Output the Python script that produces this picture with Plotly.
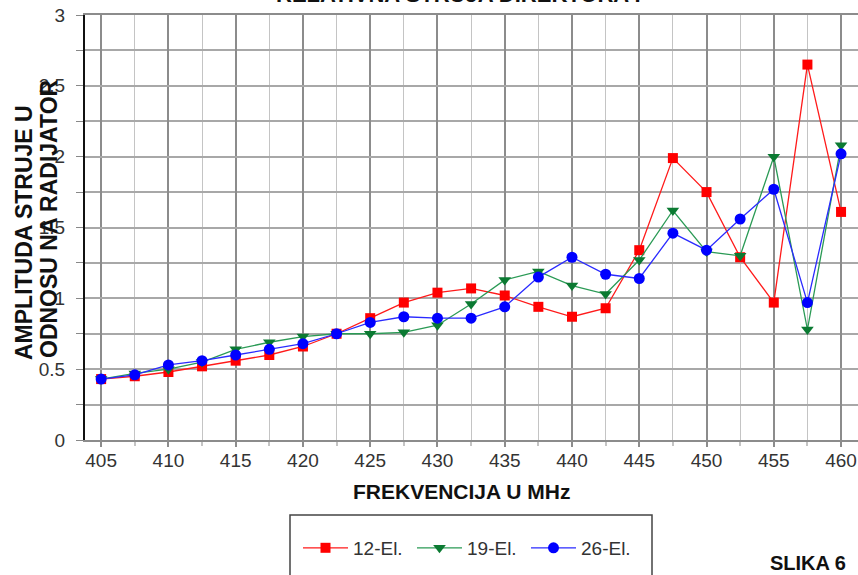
import plotly.graph_objects as go

freq = [405, 407.5, 410, 412.5, 415, 417.5, 420, 422.5, 425, 427.5, 430, 432.5,
        435, 437.5, 440, 442.5, 445, 447.5, 450, 452.5, 455, 457.5, 460]
el12 = [0.43, 0.45, 0.48, 0.52, 0.56, 0.60, 0.66, 0.75, 0.86, 0.97, 1.04, 1.07,
        1.02, 0.94, 0.87, 0.93, 1.34, 1.99, 1.75, 1.29, 0.97, 2.65, 1.61]
el19 = [0.43, 0.47, 0.50, 0.55, 0.64, 0.69, 0.73, 0.75, 0.75, 0.76, 0.81, 0.96,
        1.13, 1.19, 1.09, 1.03, 1.27, 1.62, 1.33, 1.30, 2.00, 0.78, 2.08]
el26 = [0.43, 0.46, 0.53, 0.56, 0.60, 0.64, 0.68, 0.75, 0.83, 0.87, 0.86, 0.86,
        0.94, 1.15, 1.29, 1.17, 1.14, 1.46, 1.34, 1.56, 1.77, 0.97, 2.02]
names = ["12-El.", "19-El.", "26-El."]
x_ticks = [405, 410, 415, 420, 425, 430, 435, 440, 445, 450, 455, 460]
y_ticks = [0, 0.5, 1, 1.5, 2, 2.5, 3]

FONT = "Liberation Sans, Arial, sans-serif"

fig = go.Figure()
fig.add_trace(go.Scatter(x=freq, y=el12, name=names[0], mode="lines+markers",
                         line=dict(color="#ff1a1a", width=1.3),
                         marker=dict(symbol="square", size=10, color="#ff0000")))
fig.add_trace(go.Scatter(x=freq, y=el19, name=names[1], mode="lines+markers",
                         line=dict(color="#2a9a55", width=1.3),
                         marker=dict(symbol="triangle-down", size=11, color="#0b7a32")))
fig.add_trace(go.Scatter(x=freq, y=el26, name=names[2], mode="lines+markers",
                         line=dict(color="#2a2aff", width=1.3),
                         marker=dict(symbol="circle", size=11, color="#0000ff")))

fig.update_layout(
    width=858, height=575,
    margin=dict(l=85, r=0, t=15, b=135),
    paper_bgcolor="white", plot_bgcolor="white",
    font=dict(family=FONT, color="#333333"),
    showlegend=True,
    legend=dict(orientation="h", x=(298 - 85) / 773, y=-0.254, xanchor="left", yanchor="middle",
                font=dict(size=19, color="#333333"), bgcolor="rgba(0,0,0,0)",
                itemwidth=45, entrywidth=54, tracegroupgap=0),
    xaxis=dict(range=[403.8, 461.26], tickvals=x_ticks, showgrid=True,
               gridcolor="#8c8c8c", gridwidth=1.5,
               showline=True, linecolor="#8c8c8c", linewidth=1.5, mirror=True,
               ticks="outside", ticklen=5, tickcolor="#8c8c8c", tickwidth=1.5,
               ticklabelstandoff=-3,
               tickfont=dict(size=19, color="#333333"), zeroline=False,
               minor=dict(dtick=2.5, tick0=405, showgrid=True, gridcolor="#c4c4c4",
                          gridwidth=1, ticks="outside", ticklen=4, tickcolor="#c4c4c4")),
    yaxis=dict(range=[0, 3], tickvals=y_ticks, ticktext=["0", "0.5", "1", "1.5", "2", "2.5", "3"],
               showgrid=True, gridcolor="#a8a8a8", gridwidth=1.5,
               showline=True, linecolor="#111111", linewidth=2,
               ticks="outside", ticklen=7, tickcolor="#888888",
               ticklabelstandoff=7,
               tickfont=dict(size=19, color="#333333"), zeroline=False,
               minor=dict(dtick=0.25, tick0=0, showgrid=True, gridcolor="#a8a8a8",
                          gridwidth=1.5, ticks="outside", ticklen=7, tickcolor="#888888")),
)

# legend box
fig.add_shape(type="rect", xref="paper", yref="paper",
              x0=(290 - 85) / 773, x1=(652 - 85) / 773,
              y0=(440 - 515) / 425, y1=(440 - 585) / 425,
              line=dict(color="#444444", width=1.5), fillcolor="rgba(0,0,0,0)", layer="above")

# axis titles and captions
fig.add_annotation(xref="paper", yref="paper", x=(461 - 85) / 773, y=(440 - 491) / 425,
                   text="<b>FREKVENCIJA U MHz</b>", showarrow=False,
                   font=dict(size=21, color="#111111", family=FONT),
                   xanchor="center", yanchor="middle")
fig.add_annotation(xref="paper", yref="paper", x=(24 - 85) / 773, y=(440 - 233) / 425,
                   text="<b>AMPLITUDA STRUJE U</b>", showarrow=False,
                   textangle=-90, font=dict(size=23, color="#111111", family=FONT),
                   xanchor="center", yanchor="middle")
fig.add_annotation(xref="paper", yref="paper", x=(49 - 85) / 773, y=(440 - 219) / 425,
                   text="<b>ODNOSU NA RADIJATOR</b>", showarrow=False,
                   textangle=-90, font=dict(size=23, color="#111111", family=FONT),
                   xanchor="center", yanchor="middle")
fig.add_annotation(xref="paper", yref="paper", x=(808 - 85) / 773, y=(440 - 563) / 425,
                   text="<b>SLIKA 6</b>", showarrow=False,
                   font=dict(size=20, color="#111111", family=FONT),
                   xanchor="center", yanchor="middle")
fig.add_annotation(xref="paper", yref="paper", x=(458 - 85) / 773, y=(440 - (-6)) / 425,
                   text="<b>RELATIVNA STRUJA DIREKTORA I</b>", showarrow=False,
                   font=dict(size=22, color="#111111", family=FONT),
                   xanchor="center", yanchor="middle")

fig.write_html("out.html")
